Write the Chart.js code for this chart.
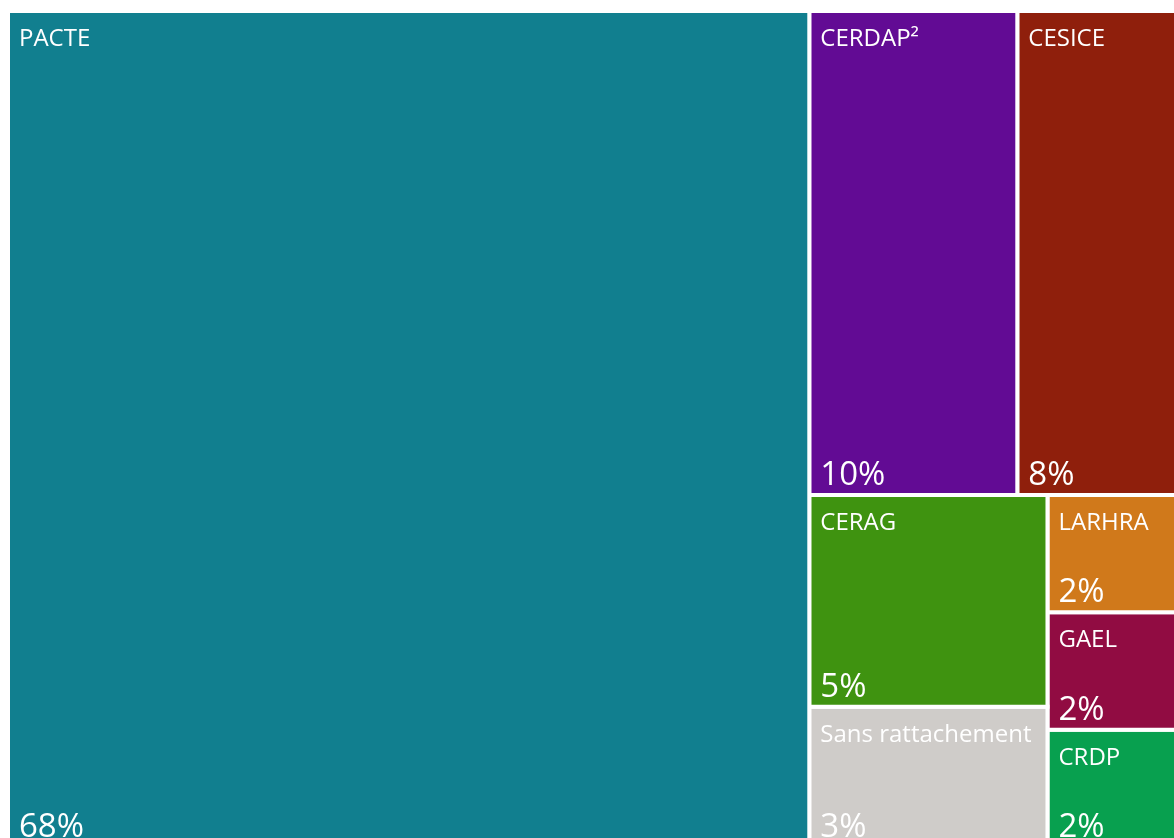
<!DOCTYPE html>
<html>
<head>
<meta charset="utf-8">
<script src="https://cdn.jsdelivr.net/npm/chart.js@4/dist/chart.umd.min.js"></script>
<style>
  html, body { margin: 0; padding: 0; background: #ffffff; overflow: hidden; }
  #wrap { position: absolute; left: 0; top: 0; width: 1196px; height: 858px; }
</style>
</head>
<body>
<div id="wrap"><canvas id="c"></canvas></div>
<script>
// ---- data ----
const categories = ['PACTE', 'CERDAP²', 'CESICE', 'CERAG', 'Sans rattachement', 'LARHRA', 'GAEL', 'CRDP'];
const values = [67.6, 10.16, 8.24, 5.09, 3.37, 1.64, 1.64, 1.64];
const colors = ['#117f8f', '#620b94', '#8f1f0c', '#3f9310', '#cfccc9', '#d0791b', '#910c42', '#08a04f'];

// nesting of the treemap slices (indices into categories)
const layoutTree = { dir: 'x', children: [0, { dir: 'y', children: [
  { dir: 'x', children: [1, 2] },
  { dir: 'x', children: [ { dir: 'y', children: [3, 4] }, { dir: 'y', children: [5, 6, 7] } ] }
] }] };

function nodeSum(n) {
  return typeof n === 'number' ? values[n] : n.children.reduce((s, c) => s + nodeSum(c), 0);
}
const rects = [];
function layout(n, x0, y0, x1, y1) {
  if (typeof n === 'number') { rects[n] = { x0, y0, x1, y1 }; return; }
  const total = nodeSum(n);
  let acc = 0;
  n.children.forEach(c => {
    const s = nodeSum(c);
    const a = acc / total, b = (acc + s) / total;
    if (n.dir === 'x') layout(c, x0 + (x1 - x0) * a, y0, x0 + (x1 - x0) * b, y1);
    else layout(c, x0, y0 + (y1 - y0) * a, x1, y0 + (y1 - y0) * b);
    acc += s;
  });
}
layout(layoutTree, 0, 0, 1, 1);

const datasets = categories.map((name, i) => {
  const r = rects[i];
  return {
    label: name,
    data: [
      { x: r.x0, y: r.y0 }, { x: r.x1, y: r.y0 }, { x: r.x1, y: r.y1 },
      { x: r.x0, y: r.y1 }, { x: r.x0, y: r.y0 }
    ],
    fill: 'shape',
    backgroundColor: colors[i],
    borderColor: '#ffffff',
    borderWidth: 4,
    pointRadius: 0,
    pointHoverRadius: 0,
    tension: 0
  };
});

const labelPlugin = {
  id: 'cellLabels',
  afterDatasetsDraw(chart) {
    const ctx = chart.ctx;
    const xs = chart.scales.x, ys = chart.scales.y;
    ctx.save();
    ctx.fillStyle = '#ffffff';
    ctx.textAlign = 'left';
    ctx.textBaseline = 'alphabetic';
    categories.forEach((name, i) => {
      const r = rects[i];
      const left = xs.getPixelForValue(r.x0);
      const top = ys.getPixelForValue(r.y0);
      const bottom = ys.getPixelForValue(r.y1);
      ctx.font = '24px "Open Sans"';
      ctx.fillText(name, left + 11, top + 35);
      ctx.font = '33px "Open Sans"';
      ctx.fillText(Math.round(values[i]) + '%', left + 11, bottom - 10);
    });
    ctx.restore();
  }
};

function draw() {
  new Chart(document.getElementById('c'), {
    type: 'line',
    data: { datasets },
    options: {
      responsive: true,
      maintainAspectRatio: false,
      animation: false,
      events: [],
      layout: { padding: { left: 8, top: 11, right: 10, bottom: 11 } },
      plugins: { legend: { display: false }, tooltip: { enabled: false } },
      scales: {
        x: { type: 'linear', min: 0, max: 1, display: false },
        y: { type: 'linear', min: 0, max: 1, reverse: true, display: false }
      }
    },
    plugins: [labelPlugin]
  });
}
Promise.all([document.fonts.load('24px "Open Sans"'), document.fonts.load('33px "Open Sans"')])
  .then(draw, draw);
</script>
</body>
</html>
